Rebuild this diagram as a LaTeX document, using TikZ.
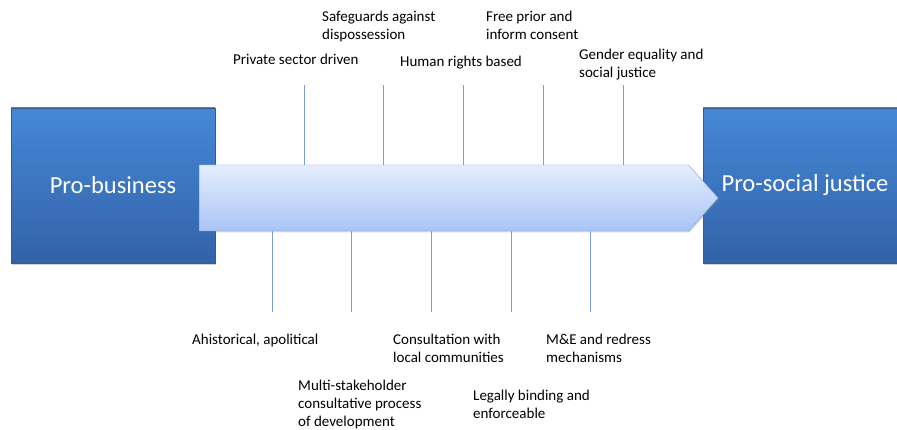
\documentclass[tikz,border=0pt]{standalone}
\usepackage{fontspec}
\setmainfont{Carlito}
\usetikzlibrary{shapes.symbols,shadows,calc}

\definecolor{boxtop}{RGB}{70,136,214}
\definecolor{boxbot}{RGB}{50,98,168}
\definecolor{boxline}{RGB}{52,92,142}
\definecolor{arrtop}{RGB}{229,238,253}
\definecolor{arrbot}{RGB}{168,196,247}
\definecolor{arrline}{RGB}{122,158,214}

\begin{document}
\begin{tikzpicture}[
    x=1pt, y=-1pt, % pixel like coordinates, y pointing down
    endbox/.style={rectangle, draw=boxline, top color=boxtop, bottom color=boxbot,
        minimum width=204pt, minimum height=155pt, text=white,
        font=\fontsize{24.5}{28}\selectfont,
        drop shadow={opacity=0.35, shadow xshift=1pt, shadow yshift=-2pt}},
    bigarrow/.style={signal, signal to=east, signal pointer angle=96, draw=arrline,
        top color=arrtop, bottom color=arrbot, minimum width=519pt, minimum height=66pt,
        inner sep=0pt, anchor=west,
        drop shadow={opacity=0.3, shadow xshift=1pt, shadow yshift=-1.5pt}},
    tag/.style={anchor=north west, align=left, inner sep=0pt,
        font=\fontsize{15}{18}\selectfont},
    tick/.style={draw=arrline, line width=0.9pt}
]
    \useasboundingbox (0,0) rectangle (897,430);

    % the two ends and the arrow between them
    \node[endbox] (business) at (113,185.5) {Pro-business};
    \node[endbox] (justice) at (805,185.5) {Pro-social justice};
    \node[bigarrow] (scale) at (199,198) {};

    % labels above the arrow
    \node[tag] (private) at (233,54) {Private sector driven};
    \node[tag] (safeguards) at (322,11) {Safeguards against\\dispossession};
    \node[tag] (rights) at (400,56) {Human rights based};
    \node[tag] (consent) at (486,11) {Free prior and\\inform consent};
    \node[tag] (gender) at (579,49) {Gender equality and\\social justice};

    % labels below the arrow
    \node[tag] (ahistorical) at (192,334) {Ahistorical, apolitical};
    \node[tag] (multi) at (298,380) {Multi-stakeholder\\consultative process\\of development};
    \node[tag] (consultation) at (393,334) {Consultation with\\local communities};
    \node[tag] (legally) at (473,390) {Legally binding and\\enforceable};
    \node[tag] (redress) at (546,334) {M\&E and redress\\mechanisms};

    % free ends of the ticks
    \foreach \name/\xpos in {a/304, b/383, c/463, d/543, e/623}
        \coordinate (up\name) at (\xpos,85);
    \foreach \name/\xpos in {a/272, b/351, c/431, d/511, e/590}
        \coordinate (down\name) at (\xpos,312);

    % ticks from the arrow
    \foreach \name in {a,b,c,d,e} {
        \draw[tick] (up\name) -- (up\name |- scale.north);
        \draw[tick] (down\name) -- (down\name |- scale.south);
    }
\end{tikzpicture}
\end{document}
